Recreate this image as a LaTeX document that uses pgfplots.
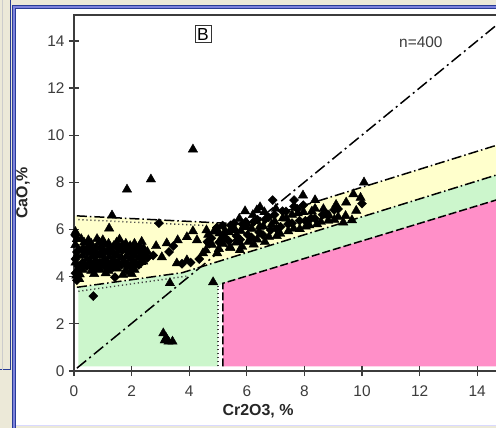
\documentclass[border=0pt]{standalone}
\usepackage{fontspec}
\setmainfont{Liberation Sans}
\usepackage{pgfplots}
\pgfplotsset{compat=1.18}
\definecolor{bgbeige}{RGB}{236,233,216}
\definecolor{frameblue}{RGB}{125,130,220}
\definecolor{framedark}{RGB}{40,60,150}
\definecolor{axisgray}{RGB}{60,60,60}
\definecolor{yellowfill}{RGB}{255,255,204}
\definecolor{greenfill}{RGB}{204,246,204}
\definecolor{pinkfill}{RGB}{255,143,200}

\begin{document}
\begin{tikzpicture}
% page = 496 x 428 px, 1 px = 1 bp
\useasboundingbox (0,0) rectangle (496bp,428bp);
\clip (0,0) rectangle (496bp,428bp);
\fill[bgbeige] (0,0) rectangle (496bp,428bp);
\fill[white] (15bp,2bp) rectangle (496bp,420bp);
\draw[blue!15, line width=1bp] (15bp,2.5bp) -- (496bp,2.5bp);
% window frame
\fill[frameblue] (12bp,0) rectangle (15.5bp,423bp);
\fill[frameblue] (12bp,419.5bp) rectangle (496bp,423bp);
\draw[framedark, line width=0.8bp] (12.4bp,0) -- (12.4bp,422.6bp) -- (496bp,422.6bp);
\draw[framedark, line width=0.6bp] (15.3bp,0) -- (15.3bp,419.7bp) -- (496bp,419.7bp);
\draw[framedark, line width=1bp] (0,58bp) -- (10.5bp,58bp) -- (10.5bp,428bp);
\draw[gray!40, line width=0.6bp] (2.5bp,58bp) -- (2.5bp,428bp);

\begin{axis}[
  at={(74bp,57bp)}, anchor=south west,
  scale only axis, width=432bp, height=356bp,
  xmin=0, xmax=15, ymin=0, ymax=15.1,
  xtick={0,2,...,14}, ytick={0,2,...,14},
  xtick pos=left, ytick pos=left,
  tick align=center, major tick length=10bp,
  axis line style={draw=axisgray, line width=1.3bp},
  tick style={draw=axisgray, line width=1.3bp},
  /pgf/number format/assume math mode=true,
  ticklabel style={font=\fontsize{15.5}{18}\selectfont, text=axisgray},
  xticklabel style={yshift=-6bp},
  yticklabel style={xshift=-1bp},
  xlabel={Cr2O3, \%}, ylabel={CaO,\%},
  label style={font=\bfseries\fontsize{16}{19}\selectfont, text=black!85},
  xlabel style={at={(axis description cs:0.426,-0.112)}, anchor=center},
  ylabel style={at={(axis description cs:-0.118,0.5)}, anchor=center},
  axis on top,
]
% fields
\addplot[fill=yellowfill, draw=none] coordinates {
  (0.05,3.54) (3.76,4.17) (15,8.44) (15,9.7) (5.9,6.23) (0.05,6.58)} -- cycle;
\addplot[fill=greenfill, draw=none] coordinates {
  (0.15,0.2) (5.0,0.2) (5.0,3.6) (5.17,3.72) (15,7.38) (15,8.44) (3.76,4.17) (0.15,3.54)} -- cycle;
\addplot[fill=pinkfill, draw=none] coordinates {
  (5.17,0.2) (15,0.2) (15,7.38) (5.17,3.72)} -- cycle;
% boundary lines
\addplot[black, line width=1.5bp, dash pattern=on 12bp off 4bp on 2bp off 4bp] coordinates {(0.1,0.12) (15,15)};
\addplot[black, line width=1.5bp, dash pattern=on 10bp off 3bp on 1.5bp off 3bp] coordinates {(0.1,6.58) (5.9,6.23) (15,9.7)};
\addplot[black!75, line width=1.4bp, dash pattern=on 1.2bp off 2.8bp] coordinates {(0.15,6.42) (4.6,6.17)};
\addplot[black, line width=1.5bp, dash pattern=on 10bp off 3bp on 1.5bp off 3bp] coordinates {(0.1,3.55) (3.76,4.17) (15,8.44)};
\addplot[black!75, line width=1.4bp, dash pattern=on 1.2bp off 2.8bp] coordinates {(0.15,3.38) (3.9,4.02)};
\addplot[black, line width=1.5bp, dash pattern=on 8bp off 3bp] coordinates {(5.17,0.2) (5.17,3.72) (15,7.38)};
\addplot[black!75, line width=1.4bp, dash pattern=on 1.2bp off 2.8bp] coordinates {(5.0,0.2) (5.0,3.6)};
% samples: triangles
\addplot[only marks, mark=triangle*, mark size=5.4bp, black] coordinates {
  (1.32,6.6) (1.22,6.05) (1.84,7.7) (2.67,8.13) (4.13,9.4) (3.33,3.73) (4.83,3.77)
  (3.1,1.6) (3.2,1.4) (3.28,1.25) (3.42,1.25) (3.15,1.3)
  (10.07,8.0) (9.7,7.5) (9.65,6.4) (9.8,6.8) (7.95,7.45) (8.37,7.25) (6.46,6.95)
  (5.94,6.78) (9.35,6.3) (9.1,7.05) (8.85,6.6) (9.45,7.15) (9.95,7.35)
  (0.05,5.9) (0.1,5.6) (0.05,5.35) (0.15,5.15) (0.1,4.9) (0.05,4.6) (0.12,4.3) (0.08,4.05) (0.18,3.9)
  (0.3,4.3) (0.3,4.9) (0.35,5.45) (0.45,4.75) (0.5,5.3) (0.6,4.25) (0.62,4.85) (0.6,5.4)
  (0.75,4.7) (0.78,5.25) (0.9,4.3) (0.92,4.9) (0.88,5.45) (1.05,4.75) (1.08,5.35)
  (1.2,4.25) (1.22,4.85) (1.2,5.4) (1.35,4.7) (1.38,5.3) (1.5,4.35) (1.52,4.9) (1.48,5.45)
  (1.65,4.8) (1.68,5.35) (1.8,4.25) (1.82,4.85) (1.8,5.4) (1.95,4.2) (1.97,4.75) (1.95,5.3)
  (2.1,4.3) (2.12,4.9) (2.1,5.4) (2.25,4.8) (2.28,5.3) (2.4,4.65) (2.42,5.2) (2.55,5.05)
  (0.5,5.55) (1.7,4.08) (2.0,4.12) (1.0,5.55)
  (0.38,4.5) (0.4,5.05) (0.55,4.62) (0.68,4.45) (0.7,5.0) (0.83,4.55) (0.98,4.5) (1.0,5.1)
  (1.13,4.62) (1.28,4.45) (1.3,5.05) (1.43,4.58) (1.58,4.52) (1.6,5.12) (1.73,4.62) (1.88,4.45)
  (1.9,5.02) (2.03,4.62) (2.18,4.5) (2.2,5.08) (2.33,4.62) (2.48,4.88) (0.25,5.6) (0.8,5.6)
  (1.58,5.58) (2.35,5.48) (0.7,4.12) (1.1,4.15) (0.2,4.1)
  (2.85,5.3) (3.22,5.42) (3.05,4.83) (3.57,4.57) (3.92,4.7) (3.6,5.55) (3.92,5.68)
  (4.13,5.93) (4.27,5.55) (4.48,5.0) (4.6,5.97) (4.97,5.0) (5.07,5.55) (5.42,5.26)
  (5.76,5.13) (5.52,5.97) (6.0,6.27) (6.35,6.82)
  (4.58,5.12) (4.66,5.78) (4.79,5.36) (4.86,5.92) (5.03,5.18) (5.05,5.84) (5.17,5.4) (5.25,5.93)
  (5.43,5.22) (5.38,5.89) (5.63,5.45) (5.57,6.04) (5.84,5.27) (5.79,5.94) (5.74,6.46) (6.05,5.48)
  (5.98,6.1) (6.24,5.37) (6.17,6.03) (6.21,6.62) (6.36,5.58) (6.45,6.12) (6.63,5.47) (6.57,6.14)
  (6.61,6.74) (6.77,5.69) (6.86,6.21) (7.04,5.73) (6.97,6.34) (7.01,6.88) (7.16,5.82) (7.25,6.48)
  (7.44,5.93) (7.37,6.47) (7.63,6.04) (7.57,6.63) (7.84,6.02) (7.77,6.69) (8.05,6.13) (7.97,6.74)
  (8.17,6.18) (8.26,6.77) (8.44,6.23) (8.37,6.88) (8.57,6.33) (8.66,6.87) (8.83,6.38) (9.04,6.42)
  (9.17,6.53) (9.43,6.58)
};
% samples: diamonds
\addplot[only marks, mark=square*, mark size=3.2bp, mark options={rotate=45}, black] coordinates {
  (0.05,5.75) (0.1,5.05) (0.05,4.75) (0.15,4.45) (0.05,4.15) (0.1,3.85)
  (0.3,4.6) (0.32,5.2) (0.45,4.45) (0.47,5.05) (0.6,4.55) (0.62,5.15) (0.75,4.4) (0.77,5.0)
  (0.9,4.6) (0.92,5.2) (1.05,4.45) (1.07,5.05) (1.2,4.55) (1.22,5.15) (1.35,4.4) (1.37,5.0)
  (1.5,4.6) (1.52,5.2) (1.65,4.5) (1.67,5.1) (1.8,4.55) (1.82,5.15) (1.95,4.45) (1.97,5.05)
  (2.1,4.6) (2.12,5.2) (2.25,4.5) (2.27,5.1) (2.4,4.95) (2.55,4.8)
  (1.42,3.98) (0.67,3.18) (2.95,6.27) (10.0,7.1) (6.9,7.25) (7.64,7.25)
  (3.3,5.05) (3.75,4.55) (4.05,4.6) (4.35,4.75) (2.75,4.9) (3.45,5.3) (4.7,5.4)
  (4.63,5.48) (4.77,5.63) (5.04,5.46) (4.96,6.08) (5.23,5.68) (5.16,6.17) (5.37,5.52) (5.44,6.18)
  (5.64,5.73) (5.56,6.27) (5.77,5.57) (5.85,6.23) (6.03,5.78) (5.96,6.32) (6.16,5.67) (6.24,6.33)
  (6.43,5.88) (6.37,6.42) (6.56,5.77) (6.64,6.43) (6.83,5.98) (6.76,6.52) (7.03,6.03) (6.96,6.63)
  (7.17,6.12) (7.24,6.78) (7.43,6.23) (7.36,6.77) (7.57,6.27) (7.64,6.98) (7.83,6.38) (7.76,6.87)
  (8.03,6.37) (7.96,7.03) (8.23,6.48) (8.36,6.47) (8.63,6.63) (8.77,6.67) (9.03,6.83) (9.17,6.87)
};
\node[draw=black!80, line width=0.9bp, inner sep=2.2bp, font=\fontsize{17.5}{20}\selectfont]
  at (axis description cs:0.2986,0.9466) {B};
\node[font=\fontsize{15.5}{18}\selectfont, text=axisgray]
  at (axis description cs:0.803,0.924) {n=400};
\end{axis}
\end{tikzpicture}
\end{document}
